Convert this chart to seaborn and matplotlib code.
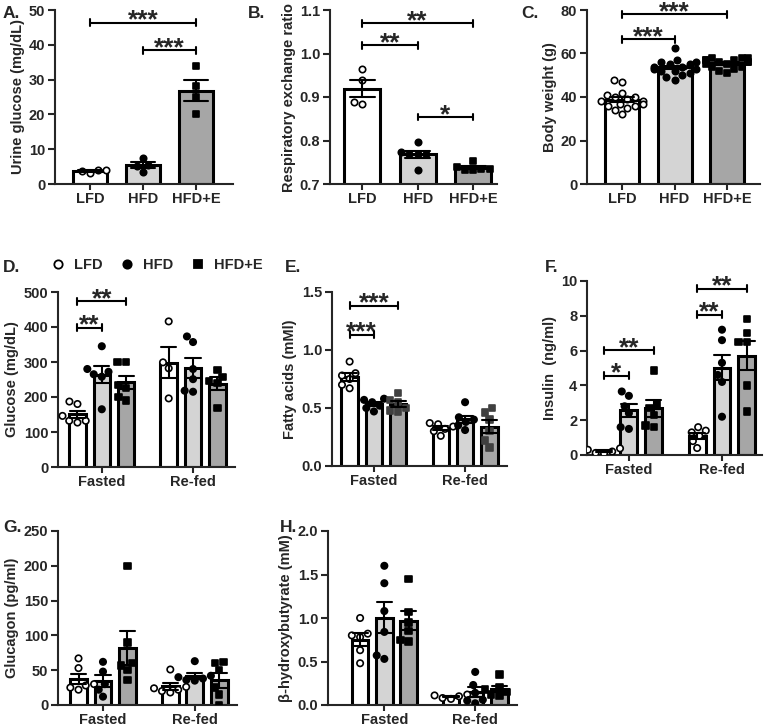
import matplotlib
matplotlib.use("Agg")
import matplotlib.pyplot as plt
from matplotlib.lines import Line2D
from matplotlib.ticker import FormatStrFormatter
import seaborn as sns
import pandas as pd

W, H = 764, 728

groups = ["LFD", "HFD", "HFD+E"]
states = ["Fasted", "Re-fed"]
palette = {"LFD": "white", "HFD": "#d4d4d4", "HFD+E": "#a6a6a6"}
markers = {"LFD": "o", "HFD": "o", "HFD+E": "s"}
fills = {"LFD": "white", "HFD": "black", "HFD+E": "black"}

# A. urine glucose (mg/dL)
urine_lfd = [3.2, 4.1, 3.7, 3.9]
urine_hfd = [3.5, 5.4, 7.6, 5.2]
urine_hfde = [34.0, 28.2, 25.1, 20.1]

# B. respiratory exchange ratio
rer_lfd = [0.964, 0.940, 0.885, 0.889]
rer_hfd = [0.797, 0.774, 0.770, 0.769, 0.768, 0.733]
rer_hfde = [0.752, 0.738, 0.735, 0.735, 0.733, 0.732]

# C. body weight (g)
bw_lfd = [48, 47, 42, 41, 40, 40, 39, 38, 38, 37, 37, 36, 36, 35, 34, 32]
bw_hfd = [62.5, 57, 56, 56, 55, 55, 54, 54, 53, 53, 52, 52, 51, 50, 49, 48]
bw_hfde = [58, 58, 58, 57, 57, 57, 56, 56, 56, 55, 55, 54, 54, 53, 52, 51]

# D. glucose (mg/dL), fasted / re-fed
glu_fasted = {"LFD": [180, 187, 132, 132, 146, 127],
              "HFD": [345, 280, 272, 265, 258, 165],
              "HFD+E": [300, 300, 235, 225, 200, 190]}
glu_refed = {"LFD": [416, 299, 282, 196],
             "HFD": [357, 373, 280, 251, 215, 218],
             "HFD+E": [278, 258, 245, 240, 168]}

# E. fatty acids (mM)
fa_fasted = {"LFD": [0.90, 0.80, 0.78, 0.75, 0.70, 0.67],
             "HFD": [0.58, 0.57, 0.55, 0.52, 0.50, 0.47],
             "HFD+E": [0.63, 0.57, 0.55, 0.50, 0.48, 0.47]}
fa_refed = {"LFD": [0.37, 0.36, 0.34, 0.32, 0.30, 0.26],
            "HFD": [0.55, 0.42, 0.40, 0.38, 0.35, 0.31],
            "HFD+E": [0.50, 0.46, 0.40, 0.30, 0.22, 0.16]}

# F. insulin (ng/ml)
ins_fasted = {"LFD": [0.45, 0.38, 0.3, 0.2, 0.12, 0.08],
              "HFD": [3.65, 3.4, 2.8, 2.4, 1.6, 1.5],
              "HFD+E": [4.85, 2.9, 2.7, 2.3, 1.7, 1.6]}
ins_refed = {"LFD": [1.6, 1.4, 1.3, 1.1, 0.8, 0.4],
             "HFD": [7.2, 6.6, 5.3, 4.6, 4.2, 2.2],
             "HFD+E": [7.8, 7.0, 6.5, 6.5, 4.0, 2.5]}

# G. glucagon (pg/ml)
gcg_fasted = {"LFD": [67, 53, 30, 28, 25, 22],
              "HFD": [62, 48, 30, 22, 12],
              "HFD+E": [200, 90, 60, 57, 50, 36]}
gcg_refed = {"LFD": [51, 26, 24, 22, 20, 18],
             "HFD": [63, 42, 40, 38, 36, 35],
             "HFD+E": [62, 60, 50, 25, 15, 0]}

# H. beta-hydroxybutyrate (mM)
bhb_fasted = {"LFD": [1.0, 0.82, 0.8, 0.78, 0.63, 0.48],
              "HFD": [1.6, 1.4, 1.08, 0.84, 0.57, 0.53],
              "HFD+E": [1.45, 1.07, 0.95, 0.85, 0.75, 0.73]}
bhb_refed = {"LFD": [0.12, 0.11, 0.10, 0.08, 0.07],
             "HFD": [0.38, 0.23, 0.14, 0.06, 0.02, 0.05],
             "HFD+E": [0.35, 0.20, 0.18, 0.15, 0.12, 0.10]}

sns.set_style("ticks")
plt.rcParams["font.family"] = ["Liberation Sans", "DejaVu Sans"]
plt.rcParams["font.weight"] = "bold"
plt.rcParams["axes.labelweight"] = "bold"
plt.rcParams["axes.linewidth"] = 1.5

fig = plt.figure(figsize=(W / 100, H / 100), dpi=100)


def add_ax(l, r, t, b):
    return fig.add_axes([l / W, 1 - b / H, (r - l) / W, (b - t) / H])


def style(ax, ylim, step, ylabel, xlim, fmt=None):
    ax.set_ylim(*ylim)
    ax.set_yticks([ylim[0] + i * step for i in range(int(round((ylim[1] - ylim[0]) / step)) + 1)])
    if fmt:
        ax.yaxis.set_major_formatter(FormatStrFormatter(fmt))
    ax.set_xlim(*xlim)
    ax.set_ylabel(ylabel, fontsize=10.5, fontweight="bold", labelpad=3)
    ax.set_xlabel("")
    sns.despine(ax=ax)
    ax.tick_params(direction="out", length=5, width=1.5, labelsize=10.5, pad=2)
    ax.tick_params(axis="x", length=4, pad=1.5)
    for lab in ax.get_xticklabels() + ax.get_yticklabels():
        lab.set_fontweight("bold")
    for ln in ax.lines:
        ln.set_zorder(4)


def sig(ax, x1, x2, y, text):
    lo, hi = ax.get_ylim()
    c = 0.02 * (hi - lo)
    kw = dict(color="black", lw=1.5, clip_on=False, zorder=5)
    ax.plot([x1, x2], [y, y], **kw)
    ax.plot([x1, x1], [y - c, y + c], **kw)
    ax.plot([x2, x2], [y - c, y + c], **kw)
    ax.annotate(text, ((x1 + x2) / 2, y), xytext=(0, -3.5), textcoords="offset points",
                ha="center", va="baseline", fontsize=19, fontweight="bold")


def simple_panel(ax, lfd, hfd, hfde):
    df = pd.DataFrame({"group": ["LFD"] * len(lfd) + ["HFD"] * len(hfd) + ["HFD+E"] * len(hfde),
                       "value": lfd + hfd + hfde})
    sns.barplot(data=df, x="group", y="value", hue="group", order=groups, hue_order=groups,
                palette=palette, errorbar="se", capsize=0.45, width=0.65,
                err_kws={"color": "black", "linewidth": 1.5},
                edgecolor="black", linewidth=2.2, legend=False, ax=ax)
    for g in groups:
        sns.swarmplot(data=df[df.group == g], x="group", y="value", order=groups,
                      marker=markers[g], color=fills[g], edgecolor="black", linewidth=1.2,
                      size=4.6, ax=ax, zorder=3, warn_thresh=1)
    return {g: c[0].get_x() + c[0].get_width() / 2 for g, c in zip(groups, ax.containers)}


def grouped_panel(ax, fasted, refed, hfde_color="black"):
    rows = []
    for st, d in zip(states, [fasted, refed]):
        for g in groups:
            for v in d[g]:
                rows.append((st, g, v))
    df = pd.DataFrame(rows, columns=["state", "group", "value"])
    sns.barplot(data=df, x="state", y="value", hue="group", order=states, hue_order=groups,
                palette=palette, errorbar="se", capsize=0.5, width=0.8, gap=0.32,
                err_kws={"color": "black", "linewidth": 1.5},
                edgecolor="black", linewidth=2.2, legend=False, ax=ax)
    for g in groups:
        col = hfde_color if g == "HFD+E" else fills[g]
        sns.swarmplot(data=df[df.group == g], x="state", y="value", hue="group",
                      order=states, hue_order=groups, dodge=True,
                      palette={k: col for k in groups}, marker=markers[g],
                      edgecolor="black" if g == "LFD" else col, linewidth=1.2,
                      size=4.6, legend=False, ax=ax, zorder=3, warn_thresh=1)
    centers = {}
    for g, c in zip(groups, ax.containers):
        for st, bar in zip(states, c):
            centers[(st, g)] = bar.get_x() + bar.get_width() / 2
    return centers


# A
ax = add_ax(55, 233, 10, 184)
cx = simple_panel(ax, urine_lfd, urine_hfd, urine_hfde)
style(ax, (0, 50), 10, "Urine glucose (mg/dL)", (-0.66, 2.70))
sig(ax, cx["LFD"], cx["HFD+E"], 46.4, "***")
sig(ax, cx["HFD"], cx["HFD+E"], 38.4, "***")

# B
ax = add_ax(330, 497, 10, 184)
cx = simple_panel(ax, rer_lfd, rer_hfd, rer_hfde)
style(ax, (0.7, 1.1), 0.1, "Respiratory exchange ratio", (-0.58, 2.43), "%.1f")
sig(ax, cx["LFD"], cx["HFD+E"], 1.069, "**")
sig(ax, cx["LFD"], cx["HFD"], 1.019, "**")
sig(ax, cx["HFD"], cx["HFD+E"], 0.854, "*")

# C
ax = add_ax(587, 760, 10, 184)
cx = simple_panel(ax, bw_lfd, bw_hfd, bw_hfde)
style(ax, (0, 80), 20, "Body weight (g)", (-0.67, 2.63))
sig(ax, cx["LFD"], cx["HFD+E"], 78.0, "***")
sig(ax, cx["LFD"], cx["HFD"], 66.5, "***")

# D
ax = add_ax(58, 235, 292, 467)
cx = grouped_panel(ax, glu_fasted, glu_refed)
style(ax, (0, 500), 100, "Glucose (mg/dL)", (-0.48, 1.46))
sig(ax, cx[("Fasted", "LFD")], cx[("Fasted", "HFD+E")], 474, "**")
sig(ax, cx[("Fasted", "LFD")], cx[("Fasted", "HFD")], 398, "**")

# E
ax = add_ax(332, 507, 292, 466)
cx = grouped_panel(ax, fa_fasted, fa_refed, hfde_color="#404040")
style(ax, (0, 1.5), 0.5, "Fatty acids (mMl)", (-0.46, 1.46), "%.1f")
sig(ax, cx[("Fasted", "LFD")], cx[("Fasted", "HFD+E")], 1.383, "***")
sig(ax, cx[("Fasted", "LFD")], cx[("Fasted", "HFD")], 1.13, "***")

# F
ax = add_ax(587, 762, 281, 455)
cx = grouped_panel(ax, ins_fasted, ins_refed)
style(ax, (0, 10), 2, "Insulin  (ng/ml)", (-0.45, 1.43))
sig(ax, cx[("Fasted", "LFD")], cx[("Fasted", "HFD+E")], 6.02, "**")
sig(ax, cx[("Fasted", "LFD")], cx[("Fasted", "HFD")], 4.55, "*")
sig(ax, cx[("Re-fed", "LFD")], cx[("Re-fed", "HFD+E")], 9.56, "**")
sig(ax, cx[("Re-fed", "LFD")], cx[("Re-fed", "HFD")], 8.07, "**")

# G
ax = add_ax(58, 237, 531, 705)
grouped_panel(ax, gcg_fasted, gcg_refed)
style(ax, (0, 250), 50, "Glucagon (pg/ml)", (-0.49, 1.46))

# H
ax = add_ax(328, 517, 531, 705)
grouped_panel(ax, bhb_fasted, bhb_refed)
style(ax, (0, 2.0), 0.5, "β-hydroxybutyrate (mM)", (-0.62, 1.46), "%.1f")

# panel letters
for lab, x, y in [("A.", 3, 14), ("B.", 248, 14), ("C.", 521, 14), ("D.", 3, 268),
                  ("E.", 285, 268), ("F.", 545, 268), ("G.", 3, 528), ("H.", 280, 528)]:
    fig.text(x / W, 1 - y / H, lab, fontsize=12.5, fontweight="bold", va="center", ha="left")

handles = [Line2D([], [], linestyle="", marker=markers[g], markersize=6,
                  markerfacecolor=fills[g], markeredgecolor="black", markeredgewidth=1.3)
           for g in groups]
fig.legend(handles, groups, loc="center left", bbox_to_anchor=(43 / W, 1 - 265 / H),
           ncol=3, frameon=False, borderpad=0, handletextpad=0.6, columnspacing=1.2,
           handlelength=1, prop={"size": 10.5, "weight": "bold"})

fig.savefig("out.png", dpi=100)
